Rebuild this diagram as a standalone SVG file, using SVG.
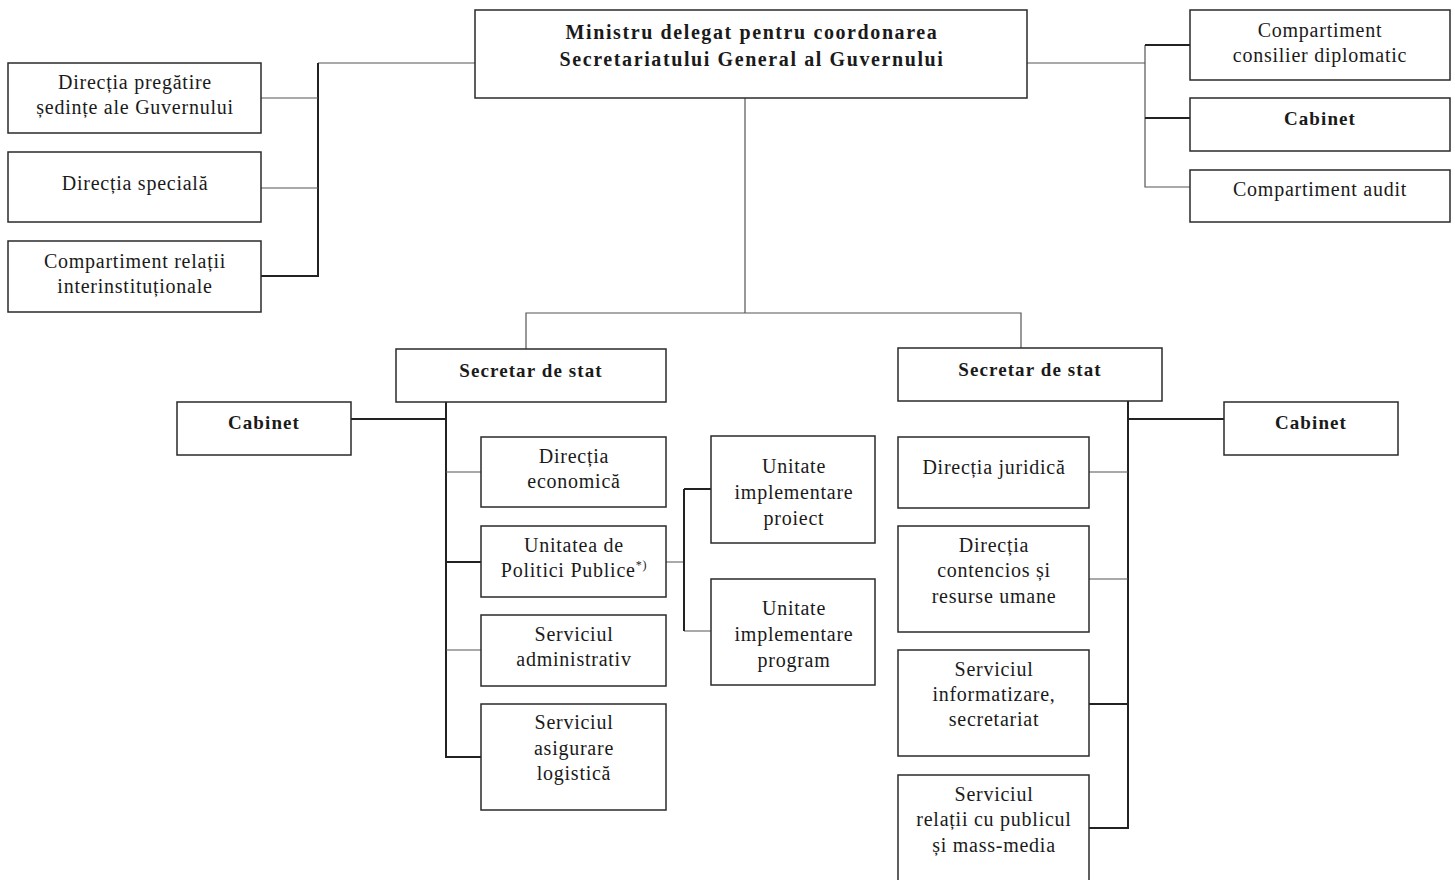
<svg xmlns="http://www.w3.org/2000/svg" width="1455" height="880" viewBox="0 0 1455 880">
<style>
.box{fill:#fff;stroke:#2a2a2a;stroke-width:1.5}
.t{font-family:"Liberation Serif","Times New Roman",serif;font-size:20px;letter-spacing:0.75px;fill:#1a1a1a;text-anchor:middle}
.b{font-weight:bold;font-size:19px;letter-spacing:1.1px}
.h{font-size:20px;letter-spacing:1.6px}
.thin{stroke:#555;stroke-width:1.2;fill:none}
.thick{stroke:#222;stroke-width:2;fill:none}
</style>
<rect width="1455" height="880" fill="#fff"/>
<g id="connectors">
<path class="thin" d="M745 98V313M526 349V313H1021V348"/>
<path class="thin" d="M318 63H475"/>
<path class="thick" d="M318 63V276H261"/>
<path class="thin" d="M261 98H318M261 188H318"/>
<path class="thin" d="M1027 63H1145M1145 45V187H1190"/>
<path class="thick" d="M1145 45H1190M1145 118H1190"/>
<path class="thick" d="M446 402V757H481M351 419H446M446 562H481"/>
<path class="thin" d="M446 472H481M446 650H481"/>
<path class="thin" d="M666 562H684M684 631H711"/>
<path class="thick" d="M684 489H711M684 489V631"/>
<path class="thick" d="M1128 401V828H1089M1128 419H1224M1128 704H1089"/>
<path class="thin" d="M1089 472H1128M1089 579H1128"/>
</g>
<g id="minister">
<rect class="box" x="475" y="10" width="552" height="88"/>
<text class="t b h" x="752" y="39">Ministru delegat pentru coordonarea</text>
<text class="t b h" x="752" y="66">Secretariatului General al Guvernului</text>
</g>
<g id="dir-pregatire">
<rect class="box" x="8" y="63" width="253" height="70"/>
<text class="t" x="135" y="89">Direcția pregătire</text>
<text class="t" x="135" y="114">ședințe ale Guvernului</text>
</g>
<g id="dir-speciala">
<rect class="box" x="8" y="152" width="253" height="70"/>
<text class="t" x="135" y="190">Direcția specială</text>
</g>
<g id="comp-relatii">
<rect class="box" x="8" y="241" width="253" height="71"/>
<text class="t" x="135" y="268">Compartiment relații</text>
<text class="t" x="135" y="293">interinstituționale</text>
</g>
<g id="comp-diplomatic">
<rect class="box" x="1190" y="10" width="260" height="70"/>
<text class="t" x="1320" y="37">Compartiment</text>
<text class="t" x="1320" y="62">consilier diplomatic</text>
</g>
<g id="cabinet-top">
<rect class="box" x="1190" y="98" width="260" height="53"/>
<text class="t b" x="1320" y="125">Cabinet</text>
</g>
<g id="comp-audit">
<rect class="box" x="1190" y="170" width="260" height="52"/>
<text class="t" x="1320" y="196">Compartiment audit</text>
</g>
<g id="secretar-left">
<rect class="box" x="396" y="349" width="270" height="53"/>
<text class="t b" x="531" y="377">Secretar de stat</text>
</g>
<g id="cabinet-left">
<rect class="box" x="177" y="402" width="174" height="53"/>
<text class="t b" x="264" y="429">Cabinet</text>
</g>
<g id="dir-economica">
<rect class="box" x="481" y="437" width="185" height="70"/>
<text class="t" x="574" y="463">Direcția</text>
<text class="t" x="574" y="488">economică</text>
</g>
<g id="upp">
<rect class="box" x="481" y="526" width="185" height="71"/>
<text class="t" x="574" y="552">Unitatea de</text>
<text class="t" x="574" y="577">Politici Publice<tspan font-size="12" dy="-8">*)</tspan></text>
</g>
<g id="serv-admin">
<rect class="box" x="481" y="615" width="185" height="71"/>
<text class="t" x="574" y="641">Serviciul</text>
<text class="t" x="574" y="666">administrativ</text>
</g>
<g id="serv-logistica">
<rect class="box" x="481" y="704" width="185" height="106"/>
<text class="t" x="574" y="729">Serviciul</text>
<text class="t" x="574" y="755">asigurare</text>
<text class="t" x="574" y="780">logistică</text>
</g>
<g id="uip">
<rect class="box" x="711" y="436" width="164" height="107"/>
<text class="t" x="794" y="473">Unitate</text>
<text class="t" x="794" y="499">implementare</text>
<text class="t" x="794" y="525">proiect</text>
</g>
<g id="uipr">
<rect class="box" x="711" y="579" width="164" height="106"/>
<text class="t" x="794" y="615">Unitate</text>
<text class="t" x="794" y="641">implementare</text>
<text class="t" x="794" y="667">program</text>
</g>
<g id="secretar-right">
<rect class="box" x="898" y="348" width="264" height="53"/>
<text class="t b" x="1030" y="376">Secretar de stat</text>
</g>
<g id="cabinet-right">
<rect class="box" x="1224" y="402" width="174" height="53"/>
<text class="t b" x="1311" y="429">Cabinet</text>
</g>
<g id="dir-juridica">
<rect class="box" x="898" y="437" width="191" height="71"/>
<text class="t" x="994" y="474">Direcția juridică</text>
</g>
<g id="dir-contencios">
<rect class="box" x="898" y="526" width="191" height="106"/>
<text class="t" x="994" y="552">Direcția</text>
<text class="t" x="994" y="577">contencios și</text>
<text class="t" x="994" y="603">resurse umane</text>
</g>
<g id="serv-informatizare">
<rect class="box" x="898" y="650" width="191" height="106"/>
<text class="t" x="994" y="676">Serviciul</text>
<text class="t" x="994" y="701">informatizare,</text>
<text class="t" x="994" y="726">secretariat</text>
</g>
<g id="serv-relatii">
<rect class="box" x="898" y="775" width="191" height="110"/>
<text class="t" x="994" y="801">Serviciul</text>
<text class="t" x="994" y="826">relații cu publicul</text>
<text class="t" x="994" y="852">și mass-media</text>
</g>
</svg>
